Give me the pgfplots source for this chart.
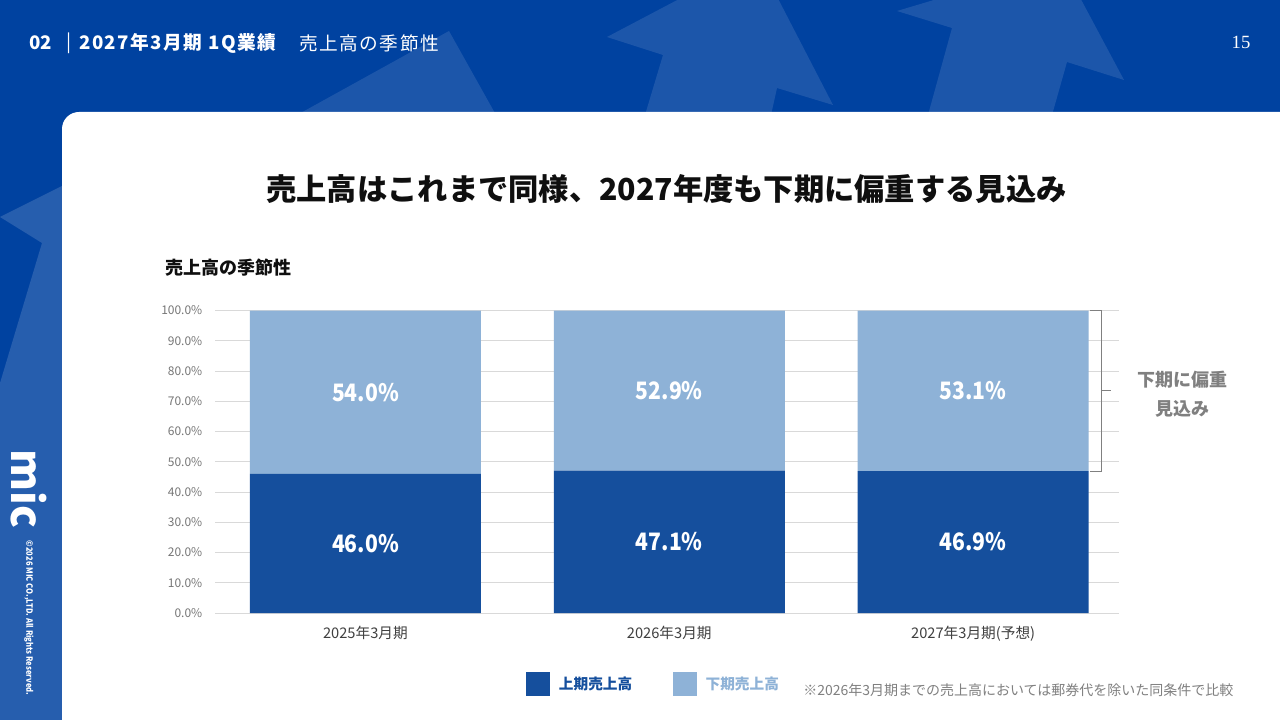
\documentclass[border=0pt]{standalone}
\usepackage{fontspec}
\setmainfont{Noto Sans CJK JP}
\newfontfamily\cond[FakeStretch=0.88]{Noto Sans CJK JP}
\newfontfamily\wide[LetterSpace=8]{Noto Sans CJK JP}
\newfontfamily\serifnum{Liberation Serif}
\usepackage{pgfplots}
\pgfplotsset{compat=1.18}
\definecolor{bgblue}{RGB}{0,66,160}
\definecolor{darkbar}{RGB}{21,79,157}
\definecolor{lightbar}{RGB}{142,178,215}
\definecolor{gridgray}{RGB}{217,217,217}
\definecolor{tickgray}{RGB}{118,118,118}
\definecolor{xgray}{RGB}{64,64,64}
\definecolor{notegray}{RGB}{128,128,128}
\definecolor{titleblack}{RGB}{15,15,15}
\begin{document}
\begin{tikzpicture}
\begin{scope}[x=0.75pt,y=-0.75pt]
\path[use as bounding box] (0,0) rectangle (1280,720);
\fill[bgblue] (0,0) rectangle (1280,720);
\fill[white,opacity=0.11] (607,37) -- (757,-42) -- (833,105) -- (777,88) -- (771,115) -- (645,115) -- (663,55) -- cycle;
\fill[white,opacity=0.11] (897,11) -- (1061,-38) -- (1124,80) -- (1067,62) -- (1052,115) -- (928,115) -- (952,28) -- cycle;
\fill[white,opacity=0.11] (449,31) -- (496,115) -- (297,115) -- cycle;
\fill[white,opacity=0.15] (0,217) -- (70,182) -- (70,720) -- (0,720) -- (0,383) -- (42,243) -- cycle;
\fill[white] (62,720) -- (62,129) .. controls (62,119.6) and (69.6,112) .. (79,112) -- (1280,112) -- (1280,720) -- cycle;
% header
\node[anchor=west,inner sep=0,text=white,font=\fontsize{14}{14}\selectfont\bfseries] at (29,43) {02};
\node[inner sep=0,text=white,font=\fontsize{14}{14}\selectfont] at (69,43) {|};
\node[anchor=west,inner sep=0,text=white,font=\wide\fontsize{14}{14}\selectfont\bfseries] at (79,43) {2027年3月期 1Q業績};
\node[anchor=west,inner sep=0,text=white,font=\wide\fontsize{14}{14}\selectfont] at (299,43) {売上高の季節性};
\node[inner sep=0,text=white,font=\serifnum\fontsize{14}{14}\selectfont] at (1241,42) {15};
% title
\node[inner sep=0,text=titleblack,font=\fontsize{22.7}{27}\selectfont\bfseries] at (666.5,189) {売上高はこれまで同様、2027年度も下期に偏重する見込み};
\node[anchor=west,inner sep=0,text=titleblack,font=\fontsize{13.5}{16}\selectfont\bfseries] at (165,268) {売上高の季節性};
% side note
\node[inner sep=0,text=notegray,align=center,font=\fontsize{13.5}{21.75}\selectfont\bfseries] at (1182,394) {下期に偏重\\見込み};
% footnote
\node[anchor=west,inner sep=0,text=notegray,font=\fontsize{10.5}{12}\selectfont] at (803,690) {※2026年3月期までの売上高においては郵券代を除いた同条件で比較};
% logo
\node[rotate=-90,inner sep=0,text=white,font=\fontsize{32}{32}\selectfont\bfseries] at (29,489) {mic};
\node[rotate=-90,inner sep=0,text=white,font=\cond\fontsize{6.5}{6.5}\selectfont\bfseries] at (29,618) {©2026 MIC CO.,LTD. All Rights Reserved.};
\end{scope}
\begin{axis}[
  at={(161.25pt,-459.75pt)}, anchor=south west,
  scale only axis, width=678pt, height=226.875pt,
  ybar stacked, bar width=0.76,
  xmin=-0.495, xmax=2.48, ymin=0, ymax=100,
  clip=false,
  xtick={0,1,2},
  xticklabels={2025年3月期,2026年3月期,2027年3月期(予想)},
  ytick={0,10,20,30,40,50,60,70,80,90,100},
  yticklabels={0.0\%,10.0\%,20.0\%,30.0\%,40.0\%,50.0\%,60.0\%,70.0\%,80.0\%,90.0\%,100.0\%},
  ymajorgrids, grid style={gridgray,line width=0.75pt},
  axis line style={draw=none}, major tick length=0pt,
  yticklabel style={font=\fontsize{9}{9}\selectfont,text=tickgray,xshift=-6pt},
  xticklabel style={font=\fontsize{11}{11}\selectfont,text=xgray,yshift=-6pt},
  /pgf/number format/assume math mode=true,
  point meta=explicit,
  nodes near coords={\pgfmathprintnumber[fixed,fixed zerofill,precision=1]{\pgfplotspointmeta}\%},
  every node near coord/.style={anchor=center,text=white,font=\cond\fontsize{18}{18}\selectfont\bfseries},
  legend image code/.code={\fill[#1] (0pt,-9pt) rectangle (18pt,9pt);},
  legend columns=2,
  legend style={at={(0.3396,-0.235)},anchor=west,draw=none,fill=none,
    font=\fontsize{11}{13}\selectfont\bfseries,
    /tikz/every odd column/.append style={column sep=4.5pt},
    /tikz/every even column/.append style={column sep=28.5pt}},
]
\addplot[fill=darkbar,draw=none]
  coordinates {(0,46.0) [46.0] (1,47.1) [47.1] (2,46.9) [46.9]};
\addplot[fill=lightbar,draw=none]
  coordinates {(0,54.0) [54.0] (1,52.9) [52.9] (2,53.1) [53.1]};
\legend{\textcolor{darkbar}{上期売上高},\textcolor{lightbar}{下期売上高}}
\draw[notegray,line width=0.75pt] (axis cs:2.385,100) -- (axis cs:2.421,100) -- (axis cs:2.421,46.9) -- (axis cs:2.385,46.9);
\draw[notegray,line width=0.75pt] (axis cs:2.421,73.45) -- (axis cs:2.454,73.45);
\end{axis}
\end{tikzpicture}
\end{document}
